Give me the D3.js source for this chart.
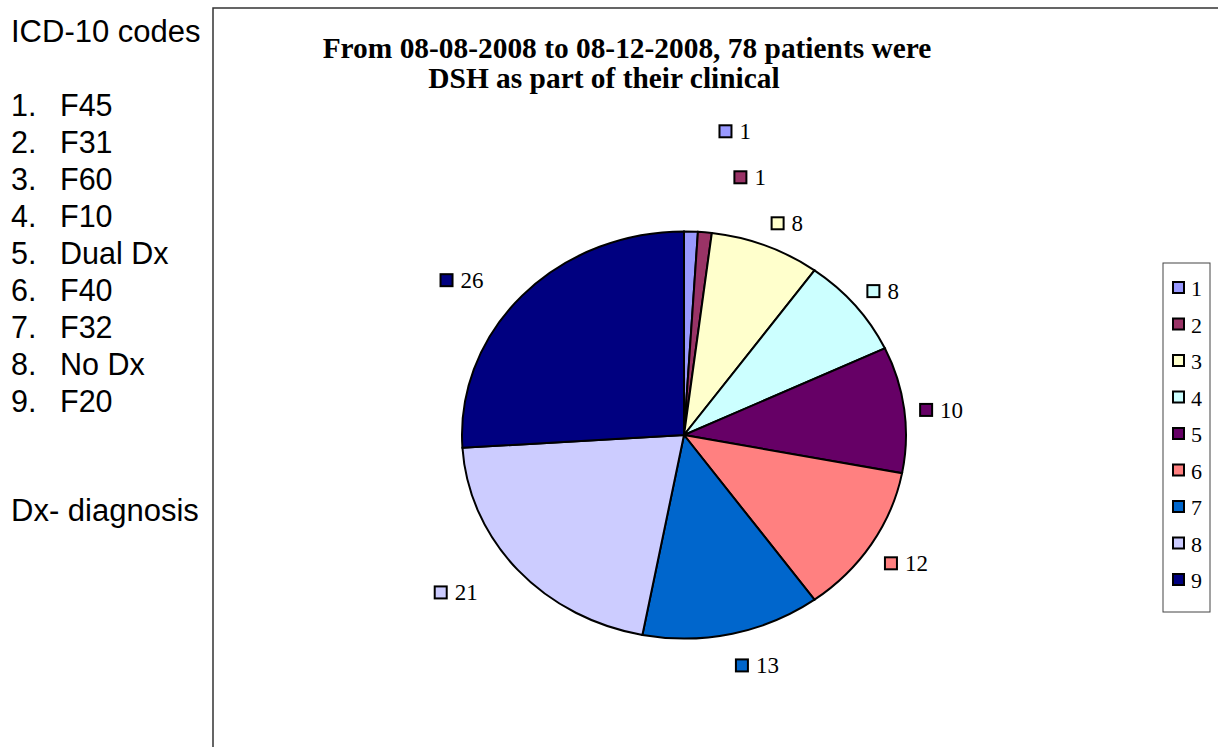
<!DOCTYPE html>
<html>
<head>
<meta charset="utf-8">
<script src="https://cdn.jsdelivr.net/npm/d3@7"></script>
<style>
  body { margin: 0; background: #fff; }
  svg { display: block; }
</style>
</head>
<body>
<svg width="1218" height="747"></svg>
<script>
// slice values as shown on the data labels
var categories = ["1", "2", "3", "4", "5", "6", "7", "8", "9"];
var values = [1, 1, 8, 8, 10, 12, 13, 21, 26];
var colors = ["#9999FF", "#993366", "#FFFFCC", "#CCFFFF", "#660066", "#FF8080", "#0066CC", "#CCCCFF", "#000080"];
var codes = ["F45", "F31", "F60", "F10", "Dual Dx", "F40", "F32", "No Dx", "F20"];
var titleLines = ["From 08-08-2008 to 08-12-2008, 78 patients were", "DSH as part of their clinical"];

const svg = d3.select("svg"),
  cx = 684, cy = 435,
  radius = 222,
  squash = 0.917;

// left side text panel
svg.append("text")
  .attr("x", 11).attr("y", 42)
  .attr("font-family", "Liberation Sans, Arial, sans-serif")
  .attr("font-size", 31)
  .text("ICD-10 codes");

var list = svg.append("g")
  .attr("font-family", "Liberation Sans, Arial, sans-serif")
  .attr("font-size", 30.5);
list.selectAll(".num")
  .data(codes)
  .enter().append("text")
  .attr("x", 11)
  .attr("y", (d, i) => 116 + i * 37)
  .text((d, i) => (i + 1) + ".");
list.selectAll(".code")
  .data(codes)
  .enter().append("text")
  .attr("x", 60)
  .attr("y", (d, i) => 116 + i * 37)
  .text(d => d);

svg.append("text")
  .attr("x", 11).attr("y", 521)
  .attr("font-family", "Liberation Sans, Arial, sans-serif")
  .attr("font-size", 31)
  .text("Dx- diagnosis");

// chart area border
svg.append("rect")
  .attr("x", 213).attr("y", 8)
  .attr("width", 1100).attr("height", 800)
  .attr("fill", "none")
  .attr("stroke", "#333")
  .attr("stroke-width", 1.5);

// title
svg.append("g")
  .attr("font-family", "Liberation Serif, Times New Roman, serif")
  .attr("font-weight", "bold")
  .attr("font-size", 29.4)
  .attr("text-anchor", "middle")
  .selectAll("text")
  .data(titleLines)
  .enter().append("text")
  .attr("x", (d, i) => i == 0 ? 627 : 604)
  .attr("y", (d, i) => 58 + i * 30)
  .text(d => d);

// pie
const pie = d3.pie().sort(null).value(d => d);
const arcs = pie(values);
const arc = d3.arc().innerRadius(0).outerRadius(radius);

const g = svg.append("g")
  .attr("transform", `translate(${cx},${cy}) scale(1,${squash})`);

g.selectAll("path")
  .data(arcs)
  .enter().append("path")
  .attr("d", arc)
  .attr("fill", (d, i) => colors[i])
  .attr("stroke", "#000")
  .attr("stroke-width", 2)
  .attr("vector-effect", "non-scaling-stroke");

// data labels, placed around the pie, pushed apart when they crowd
var labels = arcs.map((d, i) => {
  var a = (d.startAngle + d.endAngle) / 2;
  return {
    i: i,
    a: a,
    s: Math.sin(a),
    y: cy + 4 - Math.cos(a) * 232,
    push: 0
  };
});
for (var k = labels.length - 2; k >= 0; k--) {
  var l = labels[k], n = labels[k + 1];
  if (l.s >= 0 && n.s >= 0 && l.y > n.y - 46) {
    l.push = l.y - (n.y - 46);
    l.y = n.y - 46;
  }
}

const lab = svg.append("g")
  .attr("font-family", "Liberation Serif, Times New Roman, serif")
  .attr("font-size", 23);

labels.forEach(l => {
  var lg = lab.append("g");
  var t = lg.append("text")
    .attr("y", l.y + 8)
    .text(values[l.i]);
  var tw = t.node().getComputedTextLength();
  var w = 13 + 7 + tw;
  var left = l.s >= 0 ? cx + l.s * 238 + Math.min(l.push, 28) : cx + l.s * 275 - w;
  lg.append("rect")
    .attr("x", left).attr("y", l.y - 6)
    .attr("width", 12).attr("height", 12)
    .attr("fill", colors[l.i])
    .attr("stroke", "#000")
    .attr("stroke-width", 2);
  t.attr("x", left + 20);
});

// legend
var legend = svg.append("g");
legend.append("rect")
  .attr("x", 1163).attr("y", 263)
  .attr("width", 47).attr("height", 349)
  .attr("fill", "#fff")
  .attr("stroke", "#444")
  .attr("stroke-width", 1);

var item = legend.selectAll(".item")
  .data(categories)
  .enter().append("g")
  .attr("class", "item")
  .attr("transform", (d, i) => `translate(1173,${288 + i * 36.5})`);
item.append("rect")
  .attr("x", 0).attr("y", -6)
  .attr("width", 11).attr("height", 11)
  .attr("fill", (d, i) => colors[i])
  .attr("stroke", "#000")
  .attr("stroke-width", 2);
item.append("text")
  .attr("x", 18).attr("y", 8)
  .attr("font-family", "Liberation Serif, Times New Roman, serif")
  .attr("font-size", 22)
  .text(d => d);
</script>
</body>
</html>
